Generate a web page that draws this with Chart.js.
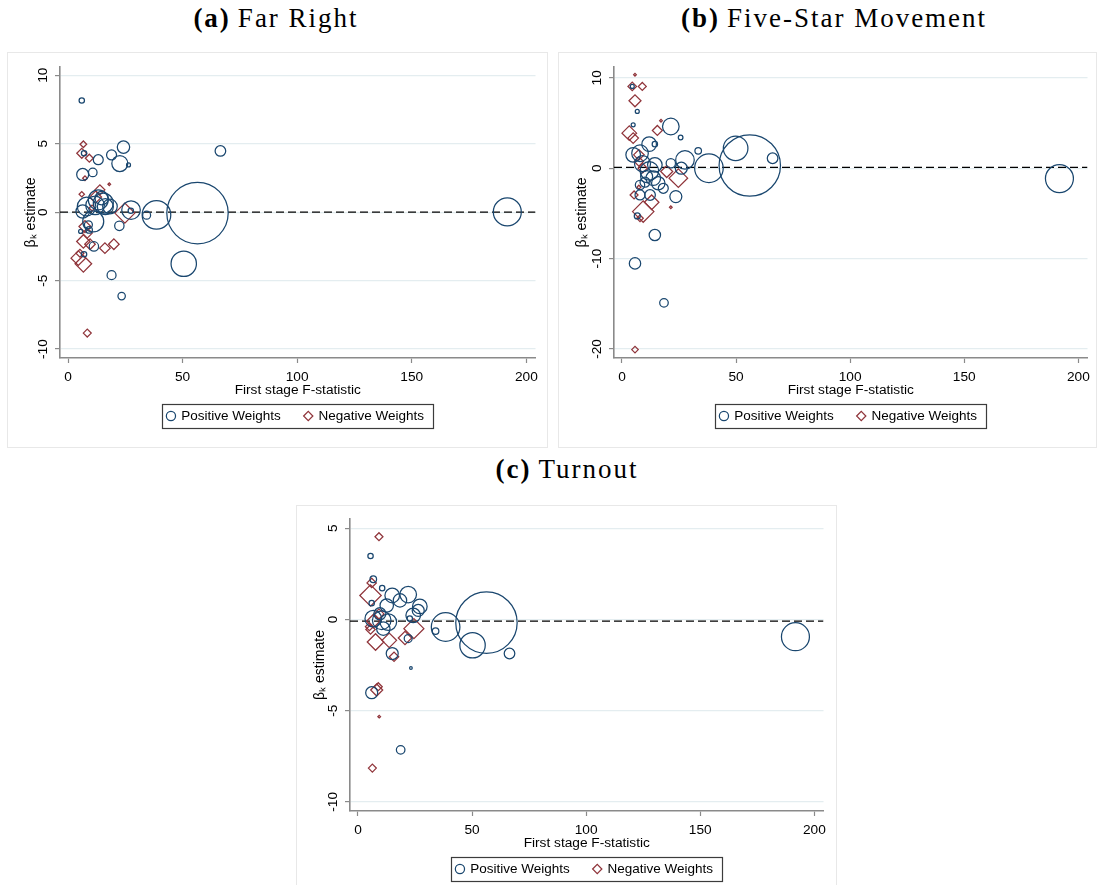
<!DOCTYPE html>
<html>
<head>
<meta charset="utf-8">
<script src="https://cdn.jsdelivr.net/npm/chart.js@4.4.1/dist/chart.umd.min.js"></script>
<style>
html,body{margin:0;padding:0;background:#fff;width:1097px;height:885px;overflow:hidden;position:relative}
.ttl{position:absolute;width:440px;text-align:center;font-family:"Liberation Serif","Times New Roman",serif;font-size:27px;letter-spacing:2px;line-height:30px;color:#000;white-space:nowrap}
.ttl b{margin-right:7px}
canvas{position:absolute;display:block}
</style>
</head>
<body>
<div class="ttl" style="left:56px;top:3px"><b>(a)</b>Far Right</div>
<div class="ttl" style="left:614px;top:3px"><b>(b)</b>Five-Star Movement</div>
<div class="ttl" style="left:347px;top:454px"><b>(c)</b>Turnout</div>

<canvas id="farRight" width="541" height="396" style="left:7px;top:52px"></canvas>
<canvas id="fiveStar" width="539" height="396" style="left:558px;top:52px"></canvas>
<canvas id="turnout" width="541" height="396" style="left:296px;top:505px"></canvas>

<script>
// shared axis stuff
const X_MIN = -3.5, X_MAX = 204;
const xTicks = [0, 50, 100, 150, 200];
const NAVY = '#1a476f', MAROON = '#90353b';
const FONT = '"Liberation Sans", Arial, Helvetica, sans-serif';

// (a) Far Right
const aPosX = [6.0, 24.2, 66.5, 13.2, 19.0, 22.6, 26.4, 7.0, 6.4, 10.8, 8.1, 13.2, 15.4, 11.8, 18.3, 14.7, 11.0, 6.4, 27.5, 34.3, 22.4, 8.9, 9.2, 11.3, 7.0, 5.5, 19.0, 56.5, 38.6, 50.5, 23.4, 191.7, 27.4, 16.3];
const aPosY = [8.15, 4.75, 4.47, 3.83, 4.18, 3.55, 3.45, 4.3, 2.75, 2.9, 0.41, 0.9, 0.66, 0.49, 0.41, 1.02, -0.68, 0.05, 0.15, -0.22, -1.0, -0.92, -1.3, -2.5, -3.07, -1.41, -4.6, -0.07, -0.2, -3.77, -6.13, 0.02, 0.1, 0.4];
const aPosW = [.0020, .0107, .0078, .0069, .0069, .0178, .0011, .0020, .0100, .0051, .0240, .0278, .0278, .0240, .0148, .0125, .0306, .0125, .0240, .0044, .0061, .0044, .0030, .0061, .0020, .0011, .0056, .2618, .0568, .0448, .0038, .0544, .0020, .0178];
const aNegX = [6.7, 6.0, 9.3, 7.4, 18.0, 13.9, 6.0, 24.8, 7.4, 8.4, 6.7, 9.6, 16.1, 20.0, 4.5, 6.7, 5.2, 8.4, 12.0, 10.5];
const aNegY = [4.96, 4.3, 3.94, 2.48, 2.04, 1.63, 1.31, -0.07, -1.05, -1.53, -2.14, -2.34, -2.63, -2.34, -3.36, -3.77, -3.0, -8.83, 1.1, 0.3];
const aNegW = [.0030, .0069, .0044, .0015, .0005, .0069, .0020, .0278, .0100, .0069, .0125, .0078, .0078, .0078, .0148, .0191, .0044, .0044, .0100, .0025];
const aYTicks = [-10, -5, 0, 5, 10];

// (b) Five-Star Movement
const bPosX = [4.5, 6.7, 4.9, 21.4, 25.7, 11.9, 14.4, 33.4, 49.8, 66.0, 56.0, 38.1, 27.6, 26.0, 21.4, 4.9, 7.9, 14.4, 10.8, 13.7, 15.9, 10.1, 7.9, 18.1, 7.9, 12.3, 23.6, 6.7, 14.4, 5.7, 18.4, 191.7, 12.0, 9.0];
const bPosY = [9.05, 6.28, 4.8, 4.62, 3.4, 2.66, 2.66, 1.92, 2.2, 1.1, 0.3, 0.0, 0.92, 0.0, 0.55, 1.48, 1.66, 0.37, -0.92, -1.1, -1.66, -1.55, -1.85, -2.22, -2.96, -2.96, -3.14, -5.28, -7.39, -10.53, -14.9, -1.15, -0.3, 0.5];
const bPosW = [.0011, .0011, .0011, .0191, .0015, .0148, .0020, .0030, .0420, .0078, .2618, .0568, .0240, .0100, .0061, .0148, .0191, .0148, .0100, .0148, .0125, .0069, .0061, .0069, .0069, .0078, .0100, .0025, .0090, .0090, .0051, .0544, .0240, .0178];
const bNegX = [5.7, 4.5, 8.9, 5.7, 17.1, 15.5, 3.2, 4.9, 7.4, 7.4, 9.1, 19.6, 24.7, 5.3, 13.0, 21.4, 9.3, 7.9, 5.7, 7.4];
const bNegY = [10.35, 9.05, 9.05, 7.46, 5.25, 4.18, 3.88, 3.33, 1.48, 0.74, 0.0, -0.37, -1.1, -2.96, -3.77, -4.32, -4.8, -5.54, -20.07, -2.1];
const bNegW = [.0005, .0051, .0044, .0100, .0005, .0069, .0148, .0078, .0078, .0061, .0061, .0100, .0240, .0044, .0148, .0005, .0318, .0030, .0030, .0011];
const bYTicks = [-20, -10, 0, 10];

// (c) Turnout
const cPosX = [5.5, 6.7, 10.6, 15.0, 22.0, 18.4, 6.0, 12.6, 27.1, 24.2, 6.7, 10.4, 13.3, 9.6, 11.1, 38.4, 34.0, 56.3, 50.2, 66.4, 22.0, 15.0, 23.2, 6.0, 18.7, 191.7, 26.4, 22.7];
const cPosY = [3.47, 2.2, 1.71, 1.31, 1.36, 1.04, 0.89, 0.76, 0.71, 0.22, 0.04, -0.05, -0.15, 0.31, -0.51, -0.42, -0.64, -0.18, -1.42, -1.87, -1.05, -1.87, -2.66, -4.02, -7.15, -0.95, 0.49, 0.05];
const cPosW = [.0020, .0030, .0020, .0148, .0191, .0125, .0020, .0125, .0148, .0148, .0191, .0240, .0191, .0100, .0125, .0568, .0030, .2618, .0448, .0078, .0044, .0100, .0005, .0100, .0051, .0544, .0100, .0020];
const cNegX = [9.2, 6.0, 5.5, 24.5, 20.6, 7.7, 13.7, 15.8, 8.2, 8.9, 9.3, 6.3, 6.7, 9.2, 5.0, 5.5];
const cNegY = [4.53, 2.0, 1.31, -0.51, -1.02, -1.24, -1.15, -2.05, -3.87, -3.69, -5.33, -8.15, -0.1, 0.3, -0.4, -0.55];
const cNegW = [.0044, .0061, .0318, .0278, .0125, .0191, .0148, .0061, .0100, .0044, .0005, .0044, .0125, .0069, .0044, .0061];
const cYTicks = [-10, -5, 0, 5];

// marker radius grows with sqrt of the weight
const bubbles = (xs, ys, ws) => xs.map((x, i) => ({x, y: ys[i], r: 60 * Math.sqrt(ws[i])}));

const LEGEND_DROP = 58;   // legend text centre below x axis

const panelFrame = {
  id: 'panelFrame',
  afterLayout(chart){
    const lg = chart.legend, ca = chart.chartArea;
    if(!lg) return;
    const dx = (ca.left + ca.right)/2 - 2 - (lg.left + lg.right)/2;
    const P = lg.options.labels.padding;
    const dy = (ca.bottom + LEGEND_DROP) - (lg.top + P + 6.75);
    lg.left += dx; lg.right += dx; lg.top += dy; lg.bottom += dy;
  },
  beforeDraw(chart){
    const {ctx, width, height} = chart;
    ctx.save();
    ctx.fillStyle = '#fff';
    ctx.fillRect(0, 0, width, height);
    ctx.strokeStyle = '#e8e8e8';
    ctx.lineWidth = 1;
    ctx.strokeRect(0.5, 0.5, width - 1, height - 1);
    ctx.restore();
  },
  afterDraw(chart){
    const lg = chart.legend;
    const hb = lg.legendHitBoxes;
    if(!hb || !hb.length) return;
    const P = lg.options.labels.padding;
    const total = hb.reduce((s, h) => s + h.width, 0) + P * (hb.length - 1);
    const mid = (lg.left + lg.right)/2;
    const cy = chart.chartArea.bottom + LEGEND_DROP;
    const ctx = chart.ctx;
    ctx.save();
    ctx.strokeStyle = '#3c3c3c';
    ctx.lineWidth = 1.2;
    ctx.strokeRect(Math.round(mid - total/2 - 5) + 0.5, Math.round(cy - 12) + 0.5, Math.round(total + 14), 24);
    ctx.restore();
  }
};

function makePanel(id, p){
  return new Chart(document.getElementById(id), {
    type: 'bubble',
    data: {
      datasets: [
        { label: 'Positive Weights', data: bubbles(p.posX, p.posY, p.posW), pointStyle: 'circle',
          borderColor: NAVY, backgroundColor: 'rgba(0,0,0,0)', borderWidth: 1.25 },
        { label: 'Negative Weights', data: bubbles(p.negX, p.negY, p.negW), pointStyle: 'rectRot',
          borderColor: MAROON, backgroundColor: 'rgba(0,0,0,0)', borderWidth: 1.25 },
        { type: 'line', label: 'ref', data: [{x: X_MIN, y: p.ref}, {x: X_MAX, y: p.ref}],
          borderColor: '#000', borderWidth: 1.3, borderDash: [8, 4], pointRadius: 0, fill: false }
      ]
    },
    options: {
      responsive: false,
      animation: false,
      events: [],
      layout: { autoPadding: false, padding: { top: p.padTop, right: p.padRight, bottom: 0, left: 0 } },
      plugins: {
        tooltip: { enabled: false },
        legend: {
          position: 'bottom',
          labels: {
            usePointStyle: true, boxWidth: 7, boxHeight: 6.5, padding: 24, color: '#000',
            font: { family: FONT, size: 13.5 },
            filter: (item) => item.datasetIndex < 2
          }
        }
      },
      scales: {
        x: {
          type: 'linear', min: X_MIN, max: X_MAX,
          afterBuildTicks: (s) => { s.ticks = xTicks.map(v => ({value: v})); },
          afterFit: (s) => { s.height = 42.5; },
          border: { display: true, color: '#8a8a8a', width: 1.6 },
          grid: { drawOnChartArea: false, drawTicks: true, tickLength: 5, tickColor: '#8a8a8a', tickWidth: 1.2 },
          ticks: { autoSkip: false, maxRotation: 0, padding: 6, color: '#000', font: { family: FONT, size: 13.7 } },
          title: { display: true, text: 'First stage F-statistic', color: '#000', padding: { top: 0, bottom: 2 },
                   font: { family: FONT, size: 13.7 } }
        },
        y: {
          type: 'linear', min: p.yMin, max: p.yMax,
          afterBuildTicks: (s) => { s.ticks = p.yTicks.map(v => ({value: v})); },
          afterFit: (s) => { s.width = p.yWidth; },
          border: { display: true, color: '#8a8a8a', width: 1.6 },
          grid: { color: '#e4edf0', lineWidth: 1.2, drawTicks: true, tickLength: 5, tickColor: '#8a8a8a', tickWidth: 1.2 },
          ticks: { autoSkip: false, minRotation: 90, maxRotation: 90, crossAlign: 'center', padding: 1.5,
                   color: '#000', font: { family: FONT, size: 13.7 } },
          title: { display: true, text: 'βₖ estimate', color: '#000', padding: { top: 15.5, bottom: 0 },
                   font: { family: FONT, size: 14 } }
        }
      }
    },
    plugins: [panelFrame]
  });
}

makePanel('farRight', { posX: aPosX, posY: aPosY, posW: aPosW, negX: aNegX, negY: aNegY, negW: aNegW,
  yTicks: aYTicks, yMin: -10.65, yMax: 10.6, ref: 0, yWidth: 53, padTop: 15, padRight: 12.5 });
makePanel('fiveStar', { posX: bPosX, posY: bPosY, posW: bPosW, negX: bNegX, negY: bNegY, negW: bNegW,
  yTicks: bYTicks, yMin: -21, yMax: 11.2, ref: 0.1, yWidth: 56, padTop: 15, padRight: 9.5 });
makePanel('turnout', { posX: cPosX, posY: cPosY, posW: cPosW, negX: cNegX, negY: cNegY, negW: cNegW,
  yTicks: cYTicks, yMin: -10.5, yMax: 5.5, ref: -0.1, yWidth: 54, padTop: 14, padRight: 13.5 });
</script>
</body>
</html>
